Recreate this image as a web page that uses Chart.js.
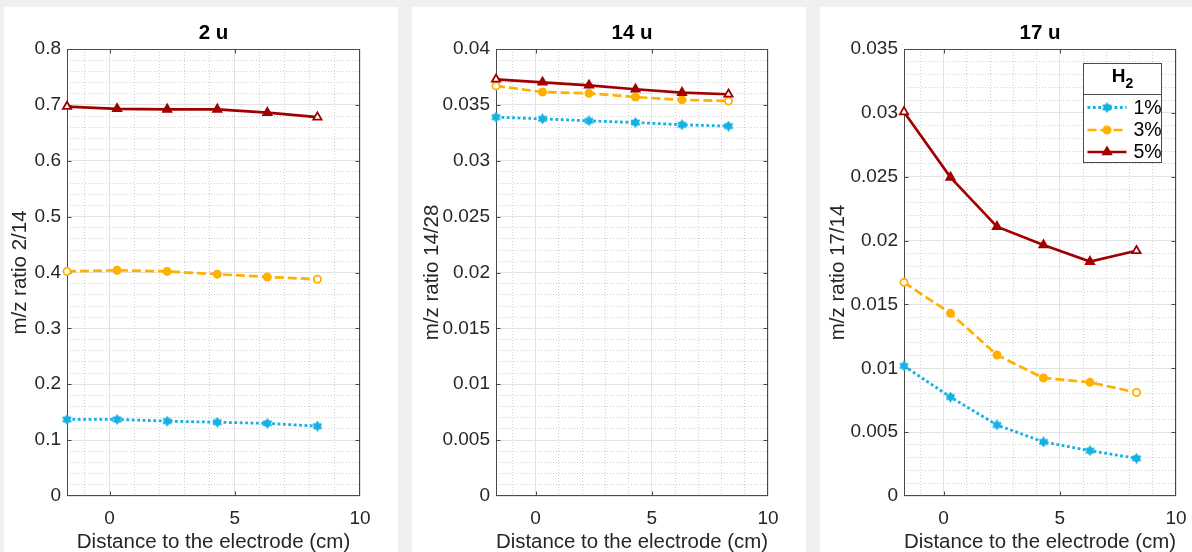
<!DOCTYPE html>
<html><head><meta charset="utf-8">
<style>
html,body{margin:0;padding:0;background:#f0f0f0;width:1192px;height:552px;overflow:hidden;}
.panel{position:absolute;top:7px;width:394px;height:545px;background:#fff;}
canvas{display:block;}
</style>
<script src="https://cdn.jsdelivr.net/npm/chart.js@4.4.1/dist/chart.umd.min.js"></script>
</head><body>
<div class="panel" style="left:4px"><canvas id="c1" width="394" height="545"></canvas></div>
<div class="panel" style="left:412px"><canvas id="c2" width="394" height="545"></canvas></div>
<div class="panel" style="left:820px"><canvas id="c3" width="394" height="545"></canvas></div>
<script>
// ---------- data ----------
const distance = [-1.7, 0.3, 2.3, 4.3, 6.3, 8.3];
const seriesLabels = ['1%', '3%', '5%'];
const legendTitle = 'H';
const legendSub = '2';
const xTitle = 'Distance to the electrode (cm)';

const titles = ['2 u', '14 u', '17 u'];
const yTitles = ['m/z ratio 2/14', 'm/z ratio 14/28', 'm/z ratio 17/14'];

const u2_h1 = [0.137, 0.137, 0.134, 0.132, 0.130, 0.125];
const u2_h3 = [0.402, 0.404, 0.402, 0.397, 0.392, 0.388];
const u2_h5 = [0.697, 0.693, 0.692, 0.692, 0.686, 0.678];

const u14_h1 = [0.0339, 0.03375, 0.03357, 0.03342, 0.03322, 0.0331];
const u14_h3 = [0.0367, 0.03615, 0.03603, 0.0357, 0.03545, 0.03535];
const u14_h5 = [0.03729, 0.03702, 0.03675, 0.0364, 0.0361, 0.03595];

const u17_h1 = [0.01018, 0.00775, 0.00556, 0.00423, 0.00355, 0.00295];
const u17_h3 = [0.01673, 0.0143, 0.01104, 0.00924, 0.0089, 0.0081];
const u17_h5 = [0.03007, 0.02495, 0.02109, 0.01965, 0.01835, 0.0192];

const yMaxes = [0.8, 0.04, 0.035];
const yMajors = [0.1, 0.005, 0.005];
const yMinors = [0.02, 0.001, 0.001];
const xMajorTicks = [0, 5, 10];

// ---------- styling ----------
const FONT = '"Liberation Sans", Arial, Helvetica, sans-serif';
const C1 = '#16b1e4', C3 = '#ffb000', C5 = '#a20000';
const TXT = '#262626';

function hexagram(color, size) {
  const c = document.createElement('canvas');
  c.width = c.height = size;
  const g = c.getContext('2d');
  const r = size / 2;
  g.fillStyle = color;
  g.beginPath();
  for (let k = 0; k < 12; k++) {
    const ang = -Math.PI / 2 + k * Math.PI / 6;
    const rr = k % 2 === 0 ? r : r * 0.64;
    g.lineTo(r + rr * Math.cos(ang), r + rr * Math.sin(ang));
  }
  g.closePath(); g.fill();
  return c;
}
const starImg = hexagram(C1, 11);

function isMult(v, m) { return Math.abs(Math.round(v / m) * m - v) < m * 1e-6; }
function fmt(v) { return String(parseFloat(v.toFixed(6))); }
function hollowEnds(color, n) { return Array.from({length: n}, (_, i) => (i === 0 || i === n - 1) ? '#ffffff' : color); }

function makeDatasets(h1, h3, h5) {
  const pts = (arr) => arr.map((y, i) => ({x: distance[i], y}));
  return [
    {label: seriesLabels[0], data: pts(h1), borderColor: C1, backgroundColor: C1, borderWidth: 2.8,
     borderDash: [2.8, 2.6], pointStyle: starImg, pointRadius: 5.5, clip: false, order: 3},
    {label: seriesLabels[1], data: pts(h3), borderColor: C3, backgroundColor: C3, borderWidth: 2.7,
     borderDash: [9, 4], pointStyle: 'circle', pointRadius: 3.6, pointBorderWidth: 1.8,
     pointBackgroundColor: hollowEnds(C3, h3.length), pointBorderColor: C3, clip: false, order: 2},
    {label: seriesLabels[2], data: pts(h5), borderColor: C5, backgroundColor: C5, borderWidth: 2.7,
     pointStyle: 'triangle', pointRadius: 4.8, pointBorderWidth: 1.8,
     pointBackgroundColor: hollowEnds(C5, h5.length), pointBorderColor: C5, clip: false, order: 1}
  ];
}

const boxPlugin = {
  id: 'mbox',
  beforeDatasetsDraw(chart, args, opts) {
    const {ctx, chartArea: a, scales} = chart;
    const L = Math.round(a.left) + 0.5, R = Math.round(a.right) - 0.5;
    const T = Math.round(a.top) + 0.5, B = Math.round(a.bottom) - 0.5;
    ctx.save();
    ctx.strokeStyle = '#4a4a4a';
    ctx.lineWidth = 1;
    ctx.setLineDash([]);
    ctx.strokeRect(L, T, R - L, B - T);
    const tl = 4;
    ctx.beginPath();
    xMajorTicks.forEach(v => {
      const x = Math.round(scales.x.getPixelForValue(v)) + 0.5;
      if (x <= L + 1 || x >= R - 1) return;
      ctx.moveTo(x, B); ctx.lineTo(x, B - tl);
      ctx.moveTo(x, T); ctx.lineTo(x, T + tl);
    });
    const ym = opts.major, ymax = opts.max;
    for (let k = 1; k * ym < ymax - 1e-12; k++) {
      const y = Math.round(scales.y.getPixelForValue(k * ym)) + 0.5;
      ctx.moveTo(L, y); ctx.lineTo(L + tl, y);
      ctx.moveTo(R, y); ctx.lineTo(R - tl, y);
    }
    ctx.stroke();
    ctx.restore();
  }
};

const legendPlugin = {
  id: 'mlegend',
  afterDraw(chart, args, opts) {
    if (!opts.show) return;
    const ctx = chart.ctx;
    const a = chart.chartArea;
    const bx = a.right - 93 + 0.5, by = 56.5, bw = 78, bh = 99;
    ctx.save();
    ctx.fillStyle = '#fff';
    ctx.fillRect(bx, by, bw, bh);
    ctx.strokeStyle = '#4a4a4a';
    ctx.lineWidth = 1;
    ctx.strokeRect(bx, by, bw, bh);
    ctx.beginPath(); ctx.moveTo(bx, by + 31); ctx.lineTo(bx + bw, by + 31); ctx.stroke();
    // header
    ctx.fillStyle = '#000';
    ctx.textBaseline = 'middle';
    ctx.font = 'bold 19px ' + FONT;
    const wH = ctx.measureText(legendTitle).width;
    ctx.font = 'bold 14px ' + FONT;
    const wS = ctx.measureText(legendSub).width;
    const cx = bx + bw / 2;
    const sx = cx - (wH + wS) / 2;
    ctx.font = 'bold 19px ' + FONT;
    ctx.textAlign = 'left';
    ctx.fillText(legendTitle, sx, by + 13);
    ctx.font = 'bold 14px ' + FONT;
    ctx.fillText(legendSub, sx + wH, by + 21);
    // items
    const rows = [by + 44, by + 66.5, by + 88.5];
    chart.data.datasets.forEach((ds, i) => {
      const y = rows[i];
      const x0 = bx + 4, x1 = bx + 43;
      ctx.save();
      ctx.strokeStyle = ds.borderColor;
      ctx.lineWidth = ds.borderWidth;
      ctx.setLineDash(ds.borderDash || []);
      ctx.beginPath(); ctx.moveTo(x0, y); ctx.lineTo(x1, y); ctx.stroke();
      ctx.setLineDash([]);
      const mx = (x0 + x1) / 2;
      ctx.fillStyle = ds.borderColor;
      ctx.strokeStyle = ds.borderColor;
      ctx.lineWidth = ds.pointBorderWidth || 1;
      Chart.helpers.drawPoint(ctx, {pointStyle: ds.pointStyle, radius: ds.pointRadius, rotation: 0, borderWidth: ds.pointBorderWidth || 0}, mx, y);
      ctx.restore();
      ctx.fillStyle = '#000';
      ctx.font = '19.5px ' + FONT;
      ctx.textAlign = 'left';
      ctx.textBaseline = 'middle';
      ctx.fillText(ds.label, bx + 50, y + 1);
    });
    ctx.restore();
  }
};

const panels = [
  {id: 'c1', h: [u2_h1, u2_h3, u2_h5], plotLeft: 63, yTitlePad: 5.75, legend: false},
  {id: 'c2', h: [u14_h1, u14_h3, u14_h5], plotLeft: 84, yTitlePad: 9.75, legend: false},
  {id: 'c3', h: [u17_h1, u17_h3, u17_h5], plotLeft: 84, yTitlePad: 7.75, legend: true}
];

panels.forEach((p, i) => {
  const yMajor = yMajors[i], yMinor = yMinors[i], yMax = yMaxes[i];
  new Chart(document.getElementById(p.id), {
    type: 'line',
    data: {datasets: makeDatasets(p.h[0], p.h[1], p.h[2])},
    plugins: [boxPlugin, legendPlugin],
    options: {
      responsive: false, animation: false, devicePixelRatio: 1,
      layout: {padding: {left: 0, right: 38, top: 0, bottom: 0}},
      plugins: {
        legend: {display: false}, tooltip: {enabled: false},
        mbox: {major: yMajor, max: yMax},
        mlegend: {show: p.legend},
        title: {display: true, text: titles[i], fullSize: false, color: '#000',
          font: {family: FONT, size: 20.5, weight: 'bold', lineHeight: 1},
          padding: {top: 15.75, bottom: 5.75}}
      },
      scales: {
        x: {
          type: 'linear', min: -1.7, max: 10,
          afterFit: s => { s.height = 56; },
          ticks: {stepSize: 1, includeBounds: false, autoSkip: false, maxRotation: 0, minRotation: 0,
            padding: 11, color: TXT, font: {family: FONT, size: 19},
            callback: v => isMult(v, 5) ? fmt(v) : ''},
          grid: {drawTicks: false, lineWidth: 1,
            color: c => (c.tick && isMult(c.tick.value, 5)) ? '#e2e2e2' : '#d0d0d0'},
          border: {display: false, dash: c => (c.tick && isMult(c.tick.value, 5)) ? [] : [1, 2]},
          title: {display: true, text: xTitle, color: TXT,
            font: {family: FONT, size: 20.5, lineHeight: 1}, padding: {top: 0, bottom: -1}}
        },
        y: {
          type: 'linear', min: 0, max: yMax,
          afterFit: s => { s.width = p.plotLeft; },
          ticks: {stepSize: yMinor, autoSkip: false, padding: 6, color: TXT,
            font: {family: FONT, size: 19},
            callback: v => isMult(v, yMajor) ? fmt(v) : ''},
          grid: {drawTicks: false, lineWidth: 1,
            color: c => (c.tick && isMult(c.tick.value, yMajor)) ? '#e2e2e2' : '#d0d0d0'},
          border: {display: false, dash: c => (c.tick && isMult(c.tick.value, yMajor)) ? [] : [1, 2]},
          title: {display: true, text: yTitles[i], color: TXT,
            font: {family: FONT, size: 20.5, lineHeight: 1}, padding: {top: p.yTitlePad, bottom: 0}}
        }
      }
    }
  });
});
</script>
</body></html>
